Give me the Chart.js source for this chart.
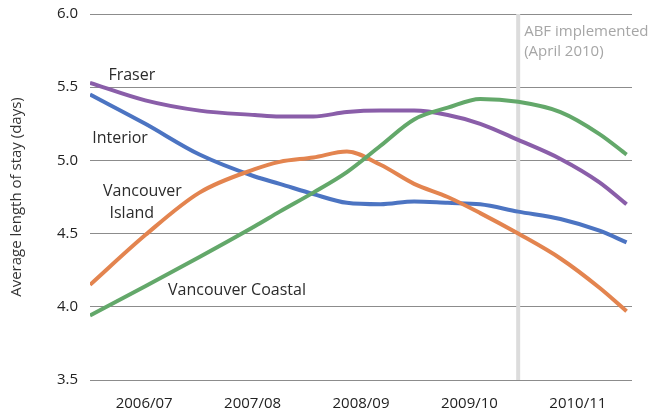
<!DOCTYPE html>
<html>
<head>
<meta charset="utf-8">
<script src="https://cdn.jsdelivr.net/npm/chart.js@4/dist/chart.umd.min.js"></script>
<style>
  html, body { margin: 0; padding: 0; background: #fff; }
  #wrap { width: 662px; height: 413px; }
</style>
</head>
<body>
<div id="wrap"><canvas id="losChart" width="662" height="413"></canvas></div>
<script>
// fiscal years, one unit wide each on the x axis
const years = ['2006/07', '2007/08', '2008/09', '2009/10', '2010/11'];
// sample positions along the x axis (in fiscal-year units)
const xPos = [0, 0.51, 1.01, 1.52, 1.75, 2.06, 2.37, 2.68, 2.99, 3.30, 3.60, 3.95, 4.34, 4.70, 4.95];

const fraser   = [5.53, 5.41, 5.34, 5.31, 5.30, 5.30, 5.33, 5.34, 5.34, 5.31, 5.25, 5.14, 5.01, 4.85, 4.70];
const interior = [5.45, 5.25, 5.04, 4.89, 4.84, 4.77, 4.71, 4.70, 4.72, 4.71, 4.70, 4.65, 4.60, 4.52, 4.44];
const island   = [4.15, 4.49, 4.78, 4.94, 4.99, 5.02, 5.06, 4.97, 4.84, 4.75, 4.64, 4.50, 4.33, 4.13, 3.97];
const coastal  = [3.94, 4.14, 4.34, 4.55, 4.65, 4.78, 4.92, 5.10, 5.28, 5.36, 5.42, 5.40, 5.33, 5.18, 5.04];

const abfAt = 3.95;

const FONT = '"Open Sans", "Noto Sans", sans-serif';

const pts = (vals) => vals.map((v, i) => ({ x: xPos[i], y: v }));

const line = (label, vals, color) => ({
    label,
    data: pts(vals),
    borderColor: color,
    backgroundColor: color,
    borderWidth: 4,
    pointRadius: 0,
    cubicInterpolationMode: 'monotone',
    fill: false
});

// series name labels, placed in data coordinates
const seriesLabels = [
    { text: 'Fraser', x: 0.17, y: 5.58 },
    { text: 'Interior', x: 0.02, y: 5.15 },
    { text: 'Vancouver', x: 0.12, y: 4.79 },
    { text: 'Island', x: 0.18, y: 4.64 },
    { text: 'Vancouver Coastal', x: 0.72, y: 4.11 }
];

const annotations = {
    id: 'annotations',
    beforeDatasetsDraw(chart) {
        const { ctx, chartArea, scales } = chart;
        const px = scales.x.getPixelForValue(abfAt);
        ctx.save();
        ctx.strokeStyle = '#dcdcdc';
        ctx.lineWidth = 4;
        ctx.beginPath();
        ctx.moveTo(px, chartArea.top);
        ctx.lineTo(px, chartArea.bottom);
        ctx.stroke();
        ctx.restore();
    },
    afterDatasetsDraw(chart) {
        const { ctx, scales } = chart;
        ctx.save();
        ctx.font = '16px ' + FONT;
        ctx.textBaseline = 'middle';
        ctx.textAlign = 'left';
        ctx.fillStyle = '#2b2b2b';
        seriesLabels.forEach(l => {
            ctx.fillText(l.text, scales.x.getPixelForValue(l.x), scales.y.getPixelForValue(l.y));
        });
        const ax = scales.x.getPixelForValue(abfAt) + 6;
        ctx.font = '15px ' + FONT;
        ctx.fillStyle = '#a6a6a6';
        ctx.fillText('ABF implemented', ax, scales.y.getPixelForValue(5.877));
        ctx.fillText('(April 2010)', ax, scales.y.getPixelForValue(5.74));
        ctx.restore();
    }
};

new Chart(document.getElementById('losChart').getContext('2d'), {
    type: 'line',
    data: {
        datasets: [
            line('Vancouver Coastal', coastal, '#63a86a'),
            line('Vancouver Island', island, '#e3844f'),
            line('Interior', interior, '#4c74c2'),
            line('Fraser', fraser, '#8a5ea9')
        ]
    },
    options: {
        responsive: false,
        animation: false,
        layout: { padding: { top: 14, right: 30, left: 8, bottom: 0 } },
        plugins: {
            legend: { display: false },
            tooltip: { enabled: false }
        },
        scales: {
            x: {
                type: 'linear',
                min: 0,
                max: 5,
                grid: { display: false },
                border: { display: false },
                afterBuildTicks: (scale) => {
                    scale.ticks = years.map((_, i) => ({ value: i + 0.5 }));
                },
                afterFit: (scale) => {
                    scale.height = 33;
                    scale.paddingLeft = 0;
                    scale.paddingRight = 0;
                },
                ticks: {
                    autoSkip: false,
                    maxRotation: 0,
                    padding: 7,
                    color: '#222',
                    font: { family: FONT, size: 15 },
                    callback: (v) => years[Math.round(v - 0.5)]
                }
            },
            y: {
                min: 3.5,
                max: 6.0,
                grid: { color: '#8c8c8c', lineWidth: 1, drawTicks: false },
                border: { display: false },
                afterFit: (scale) => {
                    scale.width = 82;
                    scale.paddingTop = 0;
                    scale.paddingBottom = 0;
                },
                ticks: {
                    stepSize: 0.5,
                    padding: 12,
                    color: '#222',
                    font: { family: FONT, size: 15 },
                    callback: (v) => v.toFixed(1)
                },
                title: {
                    display: true,
                    text: 'Average length of stay (days)',
                    color: '#333',
                    padding: { top: 0, bottom: 4 },
                    font: { family: FONT, size: 15 }
                }
            }
        }
    },
    plugins: [annotations]
});
</script>
</body>
</html>
